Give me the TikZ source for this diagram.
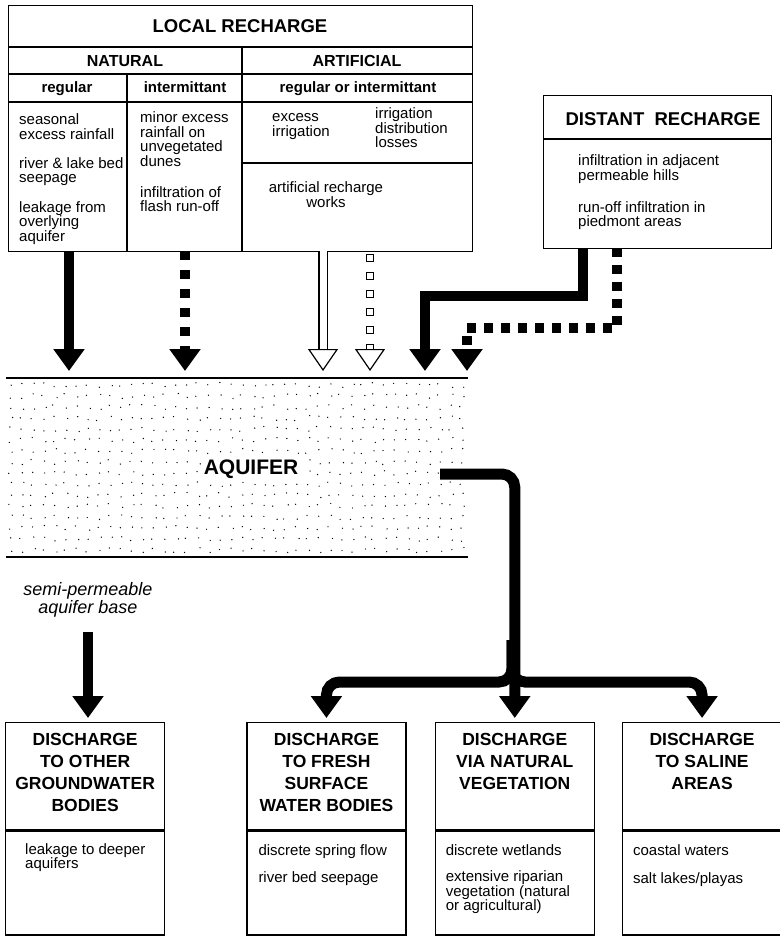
\documentclass[tikz,border=0pt]{standalone}
\usepackage{fontspec}
\setmainfont{Liberation Sans}
\usetikzlibrary{arrows.meta,calc,positioning}

\tikzset{
  box/.style={draw,line width=1.3pt,inner sep=0pt},
  rule/.style={line width=1.3pt},
  body/.style={inner sep=0pt,align=left,anchor=base west,font=\fontsize{15}{14.5}\selectfont},
  subhead/.style={inner sep=0pt,anchor=base,font=\bfseries\fontsize{15}{15}\selectfont},
  title/.style={inner sep=0pt,anchor=base,font=\bfseries\fontsize{16}{16}\selectfont},
  bigtitle/.style={inner sep=0pt,anchor=base,font=\bfseries\fontsize{18.5}{18.5}\selectfont},
  distitle/.style={inner sep=0pt,anchor=north,align=center,font=\bfseries\fontsize{17.5}{22}\selectfont},
  note/.style={inner sep=0pt,align=center,anchor=base,font=\itshape\fontsize{18}{18}\selectfont},
  flow/.style={line width=10pt,-{Triangle[width=30pt,length=22pt]}},
  tofloor/.style={shorten >=7pt},
  shaft/.style={line width=1.2pt,double=white,double distance=7pt},
  openhead/.style={line width=1.2pt,-{Triangle[open,width=30pt,length=22pt]}},
  pipe/.style={line width=11pt,rounded corners=13pt,-{Triangle[width=30pt,length=22pt]},shorten >=4pt},
}

\begin{document}
\begin{tikzpicture}[x=1pt,y=-1pt]
\useasboundingbox (0,0) rectangle (779,936);

% local recharge table (text nodes sit on the baseline of their last line)
\node[box,minimum width=464pt,minimum height=246pt,anchor=north west] (local) at (8,5) {};
\draw[rule] (8,47) -- (472,47) (8,74) -- (472,74) (8,102) -- (472,102)
  (242,47) -- (242,251) (127,74) -- (127,251) (242,163) -- (472,163);
\node[bigtitle] (lr) at (240,33) {LOCAL RECHARGE};
\node[title] (nat) at (125,67) {NATURAL};
\node[title] (art) at (357,67) {ARTIFICIAL};
\node[subhead] (nreg) at (67,93) {regular};
\node[subhead] (nint) at (185,93) {intermittant};
\node[subhead] (areg) at (358,93) {regular or intermittant};
\node[body] (n1) at (19,139.5) {seasonal\\excess rainfall};
\node[body] (n2) at (19,182.5) {river \& lake bed\\seepage};
\node[body] (n3) at (19,241) {leakage from\\overlying\\aquifer};
\node[body] (n4) at (140,166.5) {minor excess\\rainfall on\\unvegetated\\dunes};
\node[body] (n5) at (140,211.5) {infiltration of\\flash run-off};
\node[body] (a1) at (272,136.5) {excess\\irrigation};
\node[body] (a2) at (375,148) {irrigation\\distribution\\losses};
\node[body,align=center,anchor=base] (a3) at (326,207.5) {artificial recharge\\works};

% distant recharge
\node[box,minimum width=228pt,minimum height=153pt,anchor=north west] (distant) at (543,95) {};
\draw[rule] (543,139) -- (771,139);
\node[bigtitle] (dt) at (663,126) {DISTANT\ \ RECHARGE};
\node[body] (dr1) at (578,180.5) {infiltration in adjacent\\permeable hills};
\node[body] (dr2) at (578,226.5) {run-off infiltration in\\piedmont areas};

% aquifer
\node[minimum width=462pt,minimum height=179pt,anchor=north west,inner sep=0pt] (aquifer) at (6,378) {};
\pgfmathsetseed{42}
\foreach \i in {0,...,41}
  \foreach \j in {0,...,15}
    \fill ({11+\i*11+2.5*rand},{385+\j*11+2.5*rand}) circle (0.7pt);
\draw[line width=2pt] (aquifer.north west) -- (aquifer.north east);
\draw[line width=2pt] (aquifer.south west) -- (aquifer.south east);
\node[fill=white,inner sep=2pt,font=\bfseries\fontsize{21}{21}\selectfont] (aqlabel) at (251,469) {AQUIFER};

% recharge arrows
\coordinate (r1) at (69,251);
\coordinate (r2) at (185,251);
\coordinate (r3) at (323,251);
\coordinate (r4) at (370,251);
\coordinate (r5) at (583,248);
\coordinate (r6) at (617,248);
\coordinate (s5) at (425,378);
\coordinate (s6) at (467,378);
\draw[flow,tofloor] (r1) -- (r1 |- aquifer.north);
\draw[flow,tofloor,dash pattern=on 9pt off 10pt] (r2) -- (r2 |- aquifer.north);
\draw[shaft,shorten >=29pt] (r3) -- (r3 |- aquifer.north);
\draw[openhead,tofloor] ($(r3 |- aquifer.north)+(0,-29)$) -- (r3 |- aquifer.north);
\draw[line width=8pt,dash pattern=on 8pt off 10pt,shorten >=29pt] ($(r4)+(0,3)$) -- (r4 |- aquifer.north);
\draw[white,line width=5.6pt,dash pattern=on 5.6pt off 12.4pt,dash phase=16.8pt,shorten >=29pt] ($(r4)+(0,3)$) -- (r4 |- aquifer.north);
\draw[openhead,tofloor] ($(r4 |- aquifer.north)+(0,-29)$) -- (r4 |- aquifer.north);
\draw[flow,tofloor] (r5) -- ++(0,48) -| (s5);
\draw[flow,tofloor,dash pattern=on 9pt off 8pt] (r6) -- ++(0,80) -| (s6);

% discharge boxes
\node[box,minimum width=159pt,minimum height=107pt,anchor=north west] (dis1) at (5,722) {};
\node[box,minimum width=159pt,minimum height=104pt] (dis1b) [below=0pt of dis1] {};
\node[box,minimum width=159pt,minimum height=107pt] (dis2) [right=81pt of dis1] {};
\node[box,minimum width=159pt,minimum height=104pt] (dis2b) [below=0pt of dis2] {};
\node[box,minimum width=159pt,minimum height=107pt] (dis3) [right=28pt of dis2] {};
\node[box,minimum width=159pt,minimum height=104pt] (dis3b) [below=0pt of dis3] {};
\node[box,minimum width=159pt,minimum height=107pt] (dis4) [right=27pt of dis3] {};
\node[box,minimum width=159pt,minimum height=104pt] (dis4b) [below=0pt of dis4] {};
\node[distitle] (t1) [below=11pt of dis1.north] {DISCHARGE\\TO OTHER\\GROUNDWATER\\BODIES};
\node[distitle] (t2) [below=11pt of dis2.north] {DISCHARGE\\TO FRESH\\SURFACE\\WATER BODIES};
\node[distitle] (t3) [below=11pt of dis3.north] {DISCHARGE\\VIA NATURAL\\VEGETATION};
\node[distitle] (t4) [below=11pt of dis4.north] {DISCHARGE\\TO SALINE\\AREAS};
\node[body] (b1) at ($(dis1b.north west)+(20,38.5)$) {leakage to deeper\\aquifers};
\node[body] (b2) at ($(dis2b.north west)+(12,52.5)$) {discrete spring flow\\[13pt]river bed seepage};
\node[body] (b3) at ($(dis3b.north west)+(11,80.5)$) {discrete wetlands\\[12pt]extensive riparian\\vegetation (natural\\or agricultural)};
\node[body] (b4) at ($(dis4b.north west)+(11,53.5)$) {coastal waters\\[14pt]salt lakes/playas};

% discharge arrows
\node[note] (semi) at (88,613) {semi-permeable\\aquifer base};
\coordinate (basearrow) at (88,632);
\draw[flow,shorten >=4pt] (basearrow) -- (basearrow |- dis1.north);
\coordinate (outlet) at (440,474);
\coordinate (split) at (512,640);
\coordinate (fork) at (512,682);
\draw[pipe] (outlet) -| (dis3.north);
\draw[pipe] (split) -- (fork) -| (dis2.north);
\draw[pipe] (split) -- (fork) -| (dis4.north);
\end{tikzpicture}
\end{document}
